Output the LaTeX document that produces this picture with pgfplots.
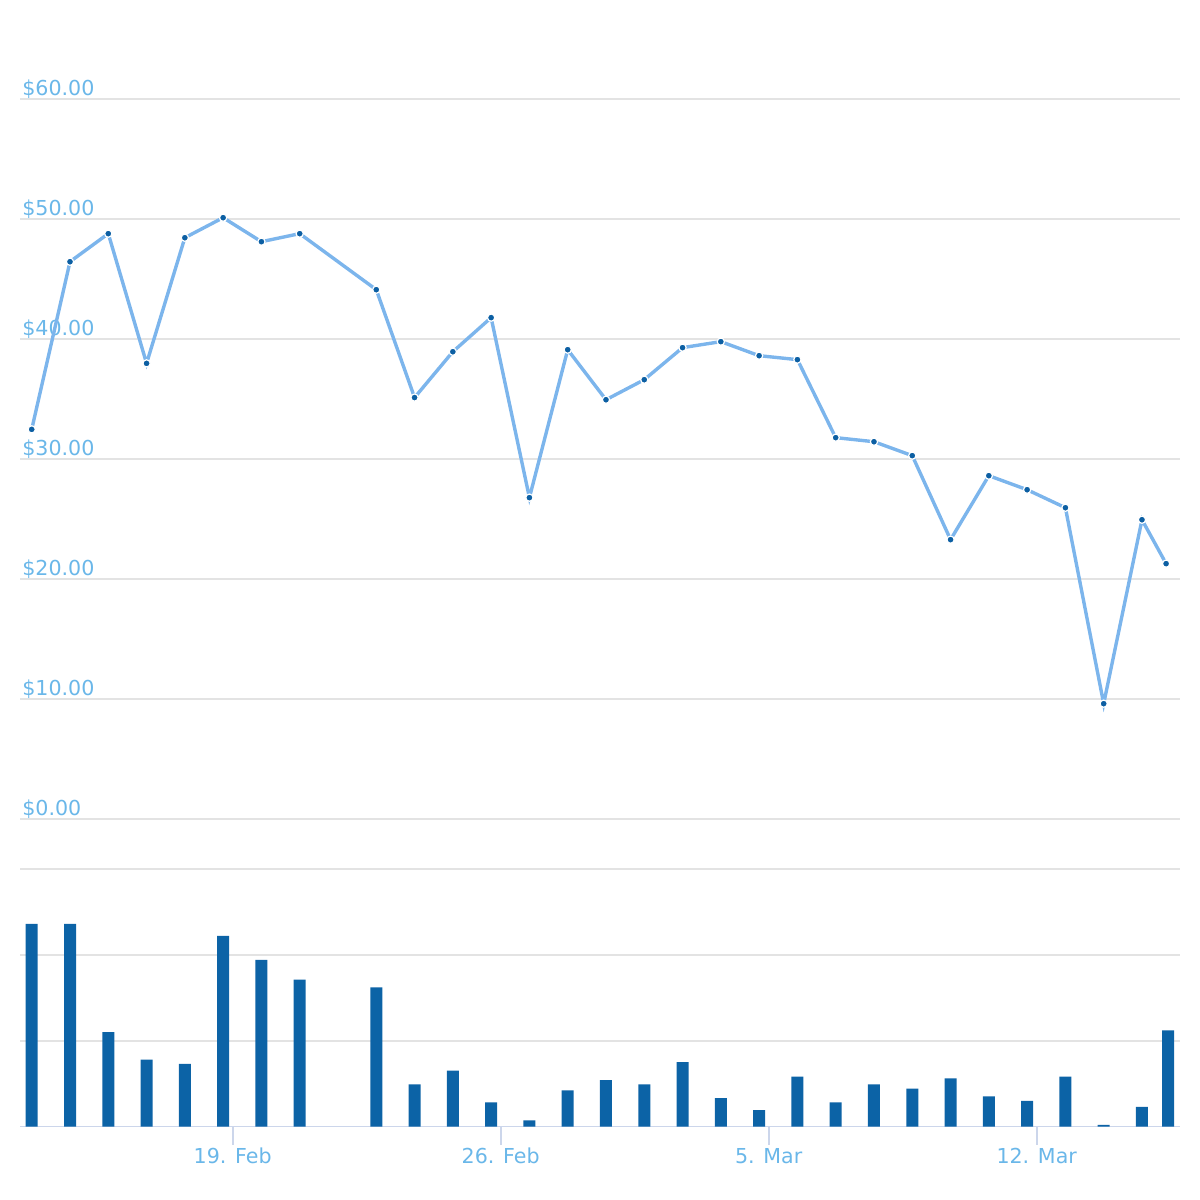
\documentclass[border=0pt]{standalone}
\usepackage{fontspec}
\setmainfont{DejaVu Sans}
\usepackage{pgfplots}
\pgfplotsset{compat=1.18}
\definecolor{linec}{HTML}{7CB5EC}
\definecolor{markc}{HTML}{0C5FA3}
\definecolor{barc}{HTML}{0C63A6}
\definecolor{labc}{HTML}{6AB7E9}
\definecolor{gridc}{HTML}{E3E3E3}
\definecolor{axisc}{HTML}{CCD6EB}
\begin{document}
\begin{tikzpicture}
\useasboundingbox (0,0) rectangle (12cm,12cm);
% price pane
\begin{axis}[
  at={(0.2cm,3.81cm)}, anchor=south west,
  scale only axis, width=11.6cm, height=7.2cm,
  xmin=-5.556, xmax=24.743, ymin=0, ymax=60,
  axis line style={draw=none},
  xtick=\empty,
  ytick={0,10,20,30,40,50,60},
  yticklabels={\$0.00,\$10.00,\$20.00,\$30.00,\$40.00,\$50.00,\$60.00},
  major tick length=0pt,
  ymajorgrids,
  grid style={gridc, line width=0.017cm},
  yticklabel style={anchor=base west, inner sep=0pt, xshift=0.017cm, yshift=0.033cm,
    text=labc, font=\fontsize{5.86}{7}\selectfont},
  clip=false,
]
\addplot[color=linec, line width=0.034cm, mark=*, mark size=0.036cm,
  mark options={fill=markc, draw=white, line width=0.012cm}] coordinates {
(-5.25,32.47) (-4.25,46.44) (-3.25,48.78) (-2.25,37.97) (-1.25,48.44) (-0.25,50.11)
(0.75,48.11) (1.75,48.78) (3.75,44.11) (4.75,35.12) (5.75,38.94) (6.75,41.78)
(7.75,26.78) (8.75,39.11) (9.75,34.94) (10.75,36.61) (11.75,39.28) (12.75,39.78)
(13.75,38.61) (14.75,38.28) (15.75,31.78) (16.75,31.44) (17.75,30.28) (18.75,23.28)
(19.75,28.61) (20.75,27.44) (21.75,25.94) (22.75,9.61) (23.75,24.94) (24.38,21.28)
};
\end{axis}
% volume pane
\begin{axis}[
  at={(0.2cm,0.735cm)}, anchor=south west,
  scale only axis, width=11.6cm, height=2.575cm,
  xmin=-5.556, xmax=24.743, ymin=0, ymax=3,
  axis x line*=bottom, axis y line*=left,
  x axis line style={axisc, line width=0.017cm},
  y axis line style={draw=none},
  xtick={0,7,14,21},
  xticklabels={19. Feb,26. Feb,5. Mar,12. Mar},
  tick align=outside,
  major tick length=0.18cm,
  xtick style={axisc, line width=0.017cm},
  ytick={1,2,3}, yticklabels={},
  ytick style={draw=none},
  ymajorgrids,
  grid style={gridc, line width=0.017cm},
  xticklabel style={anchor=base, inner sep=0pt, yshift=-0.19cm,
    text=labc, font=\fontsize{5.86}{7}\selectfont},
]
\addplot[ybar, bar width=0.12cm, fill=barc, draw=none] coordinates {
(-5.25,2.36) (-4.25,2.36) (-3.25,1.10) (-2.25,0.78) (-1.25,0.73) (-0.25,2.22)
(0.75,1.94) (1.75,1.71) (3.75,1.62) (4.75,0.49) (5.75,0.65) (6.75,0.28)
(7.75,0.07) (8.75,0.42) (9.75,0.54) (10.75,0.49) (11.75,0.75) (12.75,0.33)
(13.75,0.19) (14.75,0.58) (15.75,0.28) (16.75,0.49) (17.75,0.44) (18.75,0.56)
(19.75,0.35) (20.75,0.30) (21.75,0.58) (22.75,0.02) (23.75,0.23) (24.43,1.12)
};
\end{axis}
\end{tikzpicture}
\end{document}
